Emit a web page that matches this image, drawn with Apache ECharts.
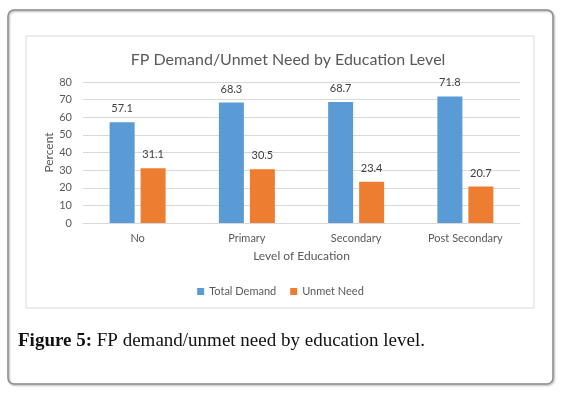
<!DOCTYPE html>
<html>
<head>
<meta charset="utf-8">
<script src="https://cdn.jsdelivr.net/npm/echarts@6/dist/echarts.min.js"></script>
<style>
html, body { margin: 0; padding: 0; background: #fff; }
#chart { width: 561px; height: 396px; }
</style>
</head>
<body>
<div id="chart"></div>
<script>
var categories = ['No', 'Primary', 'Secondary', 'Post Secondary'];
var totalDemand = [57.1, 68.3, 68.7, 71.8];
var unmetNeed = [31.1, 30.5, 23.4, 20.7];

var myChart = echarts.init(document.getElementById('chart'));

var option = {
    animation: false,
    color: ['#5b9bd5', '#ed7d31'],
    title: {
        text: 'FP Demand/Unmet Need by Education Level',
        left: 283,
        top: 47,
        textAlign: 'center',
        textStyle: { color: '#595959', fontSize: 16, fontWeight: 'normal', fontFamily: 'Lato' }
    },
    graphic: [
        {
            type: 'rect',
            shape: { x: 8, y: 10, width: 545, height: 374, r: 6 },
            style: { fill: 'none', stroke: '#8c8c8c', lineWidth: 1.5, shadowBlur: 2, shadowColor: 'rgba(0,0,0,0.35)', shadowOffsetX: 1, shadowOffsetY: 1 },
            z: -1
        },
        {
            type: 'rect',
            shape: { x: 26, y: 36, width: 508, height: 272 },
            style: { fill: 'none', stroke: '#d9d9d9', lineWidth: 1 },
            z: -1
        },
        {
            type: 'text',
            left: 18,
            top: 332,
            style: {
                text: '{b|Figure 5:} FP demand/unmet need by education level.',
                fontFamily: 'Liberation Serif',
                fontSize: 19,
                fill: '#111',
                rich: { b: { fontWeight: 'bold', fontFamily: 'Liberation Serif', fontSize: 19, fill: '#111' } }
            }
        }
    ],
    legend: {
        data: ['Total Demand', 'Unmet Need'],
        left: 'center',
        top: 281,
        itemWidth: 7,
        itemHeight: 7,
        itemGap: 14,
        icon: 'rect',
        textStyle: { color: '#595959', fontSize: 11, fontFamily: 'Lato' }
    },
    grid: { left: 83, right: 41, top: 82, bottom: 173 },
    xAxis: {
        type: 'category',
        data: categories,
        name: 'Level of Education',
        nameLocation: 'middle',
        nameGap: 27,
        nameTextStyle: { color: '#595959', fontSize: 12, fontFamily: 'Lato' },
        axisLine: { lineStyle: { color: '#d9d9d9' } },
        axisTick: { show: false },
        axisLabel: { color: '#595959', fontSize: 11, margin: 10, fontFamily: 'Lato' }
    },
    yAxis: {
        type: 'value',
        min: 0,
        max: 80,
        interval: 10,
        name: 'Percent',
        nameLocation: 'middle',
        nameGap: 28,
        nameMoveOverlap: false,
        nameTextStyle: { color: '#595959', fontSize: 12, fontFamily: 'Lato' },
        axisLine: { show: false },
        axisTick: { show: false },
        axisLabel: { color: '#595959', fontSize: 11, margin: 11, fontFamily: 'Lato' },
        splitLine: { lineStyle: { color: '#d9d9d9' } }
    },
    series: [
        {
            name: 'Total Demand',
            type: 'bar',
            data: totalDemand,
            barWidth: 25,
            barGap: '24%',
            label: { show: true, position: 'top', distance: 8, color: '#404040', fontSize: 11, fontFamily: 'Lato' }
        },
        {
            name: 'Unmet Need',
            type: 'bar',
            data: unmetNeed,
            barWidth: 25,
            label: { show: true, position: 'top', distance: 8, color: '#404040', fontSize: 11, fontFamily: 'Lato' }
        }
    ]
};

myChart.setOption(option);
</script>
</body>
</html>
